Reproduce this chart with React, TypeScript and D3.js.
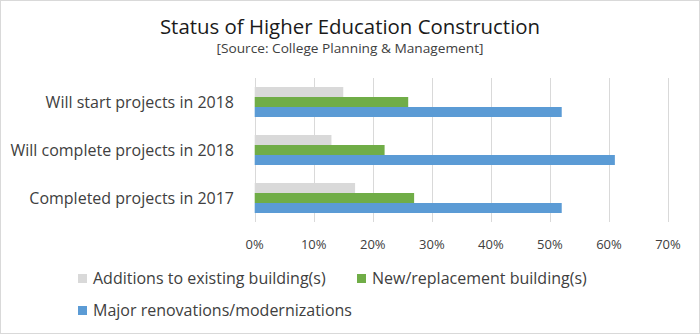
import React from "react";
import * as d3 from "d3";

const categories = [
  "Will start projects in 2018",
  "Will complete projects in 2018",
  "Completed projects in 2017",
];
const seriesNames = [
  "Additions to existing building(s)",
  "New/replacement building(s)",
  "Major renovations/modernizations",
];
const additions = [15, 13, 17];
const newReplacement = [26, 22, 27];
const majorRenovations = [52, 61, 52];
const xTicks = [0, 10, 20, 30, 40, 50, 60, 70];
const colors = ["#D9D9D9", "#70AD47", "#5B9BD5"];

const W = 700;
const H = 334;
const FONT = "'Open Sans', 'Noto Sans', sans-serif";

export default function App() {
  const x = d3.scaleLinear().domain([0, 70]).range([254.7, 668]);
  const y = d3.scaleBand<string>().domain(categories).range([78, 222]).paddingInner(0.375).paddingOuter(0.1875);
  const inner = d3.scaleBand<number>().domain([0, 1, 2]).range([0, y.bandwidth()]);
  const series = [additions, newReplacement, majorRenovations];

  return (
    <div style={{ position: "fixed", left: 0, top: 0 }}>
      <svg width={W} height={H} style={{ display: "block", fontFamily: FONT }}>
        <rect x={0.5} y={0.5} width={W - 1} height={H - 1} fill="#fff" stroke="#D9D9D9" />
        <text x={350} y={34} textAnchor="middle" fontSize={20.4} fill="#1a1a1a">
          Status of Higher Education Construction
        </text>
        <text x={350} y={53} textAnchor="middle" fontSize={12} textLength={267} lengthAdjust="spacingAndGlyphs" fill="#404040">
          [Source: College Planning &amp; Management]
        </text>
        {xTicks.map((t) => (
          <g key={t}>
            <line x1={Math.round(x(t)) + 0.5} x2={Math.round(x(t)) + 0.5} y1={78} y2={222} stroke="#D9D9D9" />
            <text x={x(t)} y={249} textAnchor="middle" fontSize={13} fill="#404040">
              {t}%
            </text>
          </g>
        ))}
        {categories.map((c, ci) => (
          <g key={c}>
            {series.map((s, si) => (
              <rect
                key={si}
                x={x(0)}
                y={(y(c) as number) + (inner(si) as number)}
                width={x(s[ci]) - x(0)}
                height={inner.bandwidth()}
                fill={colors[si]}
              />
            ))}
            <text x={234} y={(y(c) as number) + y.bandwidth() / 2 + 6} textAnchor="end" fontSize={16} fill="#404040">
              {c}
            </text>
          </g>
        ))}
        {[
          { i: 0, lx: 78, ly: 278.5 },
          { i: 1, lx: 357, ly: 278.5 },
          { i: 2, lx: 78, ly: 310.5 },
        ].map(({ i, lx, ly }) => (
          <g key={i}>
            <rect x={lx} y={ly - 4.5} width={9} height={9} fill={colors[i]} />
            <text x={lx + 15} y={ly + 5.5} fontSize={16} fill="#404040">
              {seriesNames[i]}
            </text>
          </g>
        ))}
      </svg>
    </div>
  );
}
